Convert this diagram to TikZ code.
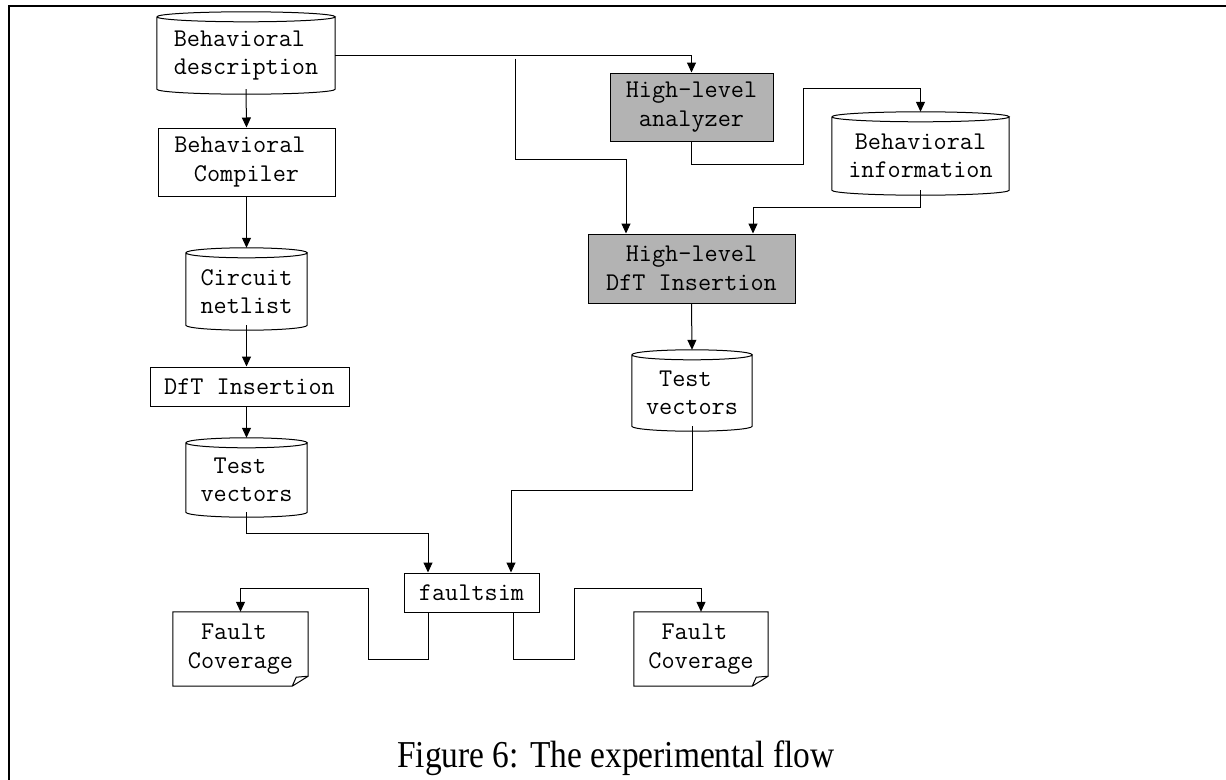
\documentclass[tikz,border=0pt]{standalone}
\usepackage{fontspec}
\usepackage{graphicx}
\setmainfont{Liberation Serif}
\usetikzlibrary{arrows.meta,calc}
\definecolor{boxgray}{RGB}{179,179,179}
\tikzset{
  lbl/.style={font=\ttfamily\fontsize{25.5}{28.5}\selectfont, align=center, inner sep=0pt},
  procbox/.style={lbl, draw, line width=1pt},
  graybox/.style={procbox, fill=boxgray},
  dbnode/.style={lbl},
  docnode/.style={lbl},
  shapeline/.style={line width=1pt, line join=miter},
  arr/.style={-{Triangle[length=10pt,width=9pt]}, line width=1pt},
  frameline/.style={line width=2.4pt, line join=miter}
}
\newcommand\trsp{\hphantom{x}}
\newcommand\dbdraw[1]{%
  \draw[shapeline] let \p1=(#1.north west), \p2=(#1.south east) in
    (\x1,\y1+5pt) -- (\x1,\y2)
    arc[start angle=180, end angle=360, x radius={(\x2-\x1)/2}, y radius=5pt]
    -- (\x2,\y1+5pt)
    (\x1,\y1+5pt) arc[start angle=180, end angle=-180, x radius={(\x2-\x1)/2}, y radius=5pt];}
\newcommand\docdraw[1]{%
  \draw[shapeline] let \p1=(#1.north west), \p2=(#1.south east) in
    (\p1) -- (\x2,\y1) -- (\x2,\y2+10pt) -- (\x2-16pt,\y2) -- (\x1,\y2) -- cycle
    (\x2-16pt,\y2) -- (\x2-12pt,\y2+9pt) -- (\x2,\y2+10pt);}
\begin{document}
\begin{tikzpicture}[x=1pt, y=-1pt]
\useasboundingbox (0,0) rectangle (1226,779);
% frame
\draw[frameline] (1226,6) -- (9,6) -- (9,781);

% left column
\node[dbnode, minimum width=178, minimum height=67] (desc) at (246,55.5) {Behavioral\trsp\\description};
\node[procbox, minimum width=177, minimum height=68] (comp) at (246.5,162) {Behavioral\trsp\\Compiler};
\node[dbnode, minimum width=121, minimum height=67] (net) at (246.5,291.5) {Circuit\\netlist};
\node[procbox, minimum width=199, minimum height=39] (dft) at (249.5,386.5) {DfT Insertion};
\node[dbnode, minimum width=121, minimum height=64] (tv1) at (246.5,480) {Test\trsp\\vectors};
\node[procbox, minimum width=135, minimum height=39] (fsim) at (471.5,592.5) {faultsim};
\node[docnode, minimum width=135, minimum height=74] (fc1) at (240.5,649) {Fault\trsp\\Coverage};
\node[docnode, minimum width=134, minimum height=74] (fc2) at (701,649) {Fault\trsp\\Coverage};

% right column
\node[graybox, minimum width=163, minimum height=68] (hla) at (691.5,107) {High-level\\analyzer};
\node[dbnode, minimum width=177, minimum height=68] (info) at (920.5,156) {Behavioral\\information};
\node[graybox, minimum width=207, minimum height=69] (hdft) at (691.5,268.5) {High-level\\DfT Insertion};
\node[dbnode, minimum width=120, minimum height=66] (tv2) at (692,393) {Test\trsp\\vectors};

\dbdraw{desc}
\dbdraw{net}
\dbdraw{tv1}
\dbdraw{info}
\dbdraw{tv2}
\docdraw{fc1}
\docdraw{fc2}

\coordinate (j1) at (515,58.5);

% connectors
\draw[arr] (desc.south) -- (comp.north);
\draw[arr] (desc.east) -| (hla.north);
\draw[arr] (j1) -- (515,159) -| ([xshift=-65.5pt]hdft.north);
\draw[arr] (hla.south) -- (691.5,164) -- (803,164) -- (803,88) -| ([yshift=10pt]info.north);
\draw[arr] (info.south) -- (920.5,207) -| ([xshift=61.5pt]hdft.north);
\draw[arr] (hdft.south) -- ([yshift=10pt]tv2.north);
\draw[arr] (tv2.south) -- (692,490) -| ([xshift=39.5pt]fsim.north);
\draw[arr] (comp.south) -- ([yshift=10pt]net.north);
\draw[arr] (net.south) -- (net.south |- dft.north);
\draw[arr] (tv1.north |- dft.south) -- ([yshift=10pt]tv1.north);
\draw[arr] (tv1.south) -- (246.5,533) -| ([xshift=-43.5pt]fsim.north);
\draw[arr] ([xshift=-43.5pt]fsim.south) -- (428,659) -- (368,659) -- (368,588) -| (fc1.north);
\draw[arr] ([xshift=41.5pt]fsim.south) -- (513,659) -- (574,659) -- (574,588) -| (fc2.north);

% caption
\node[font=\fontsize{38}{44}\selectfont, anchor=base, inner sep=0pt] (cap) at (616,767) {\scalebox{0.88}[1]{Figure 6: The experimental flow}};
\end{tikzpicture}
\end{document}
